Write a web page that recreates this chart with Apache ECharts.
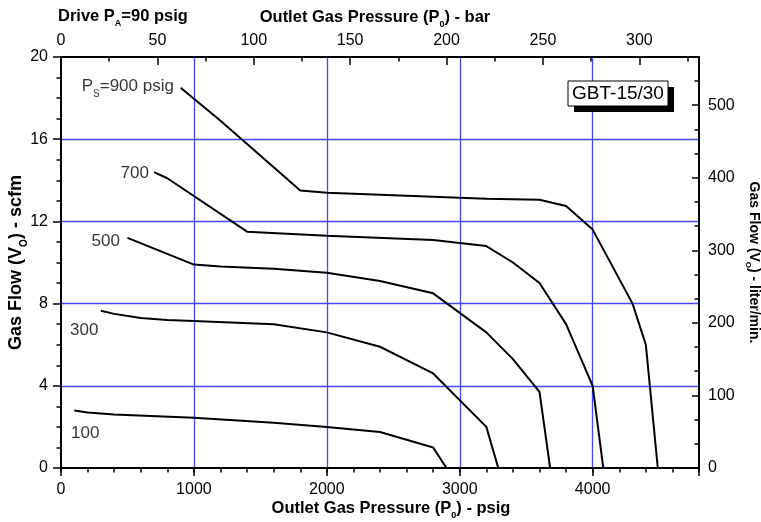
<!DOCTYPE html>
<html><head><meta charset="utf-8">
<script src="https://cdn.jsdelivr.net/npm/echarts@6/dist/echarts.min.js"></script>
<style>html,body{margin:0;padding:0;background:#fff}#c{width:761px;height:522px}</style>
</head><body><div id="c"></div>
<script>
// ---- data ----
const supplyLabels = ['900', '700', '500', '300', '100'];
const p900x = [900, 1200, 1800, 2000, 3200, 3600, 3800, 4000, 4300, 4400, 4490];
const p900y = [18.5, 16.9, 13.5, 13.4, 13.1, 13.05, 12.75, 11.6, 8.0, 6.0, 0];
const p700x = [700, 800, 1400, 2000, 2800, 3200, 3400, 3600, 3800, 4000, 4080];
const p700y = [14.4, 14.1, 11.5, 11.3, 11.1, 10.8, 10.0, 9.0, 7.0, 4.0, 0];
const p500x = [500, 1000, 1200, 1600, 2000, 2400, 2800, 3200, 3400, 3600, 3680];
const p500y = [11.2, 9.9, 9.8, 9.7, 9.5, 9.1, 8.5, 6.6, 5.3, 3.7, 0];
const p300x = [300, 400, 600, 800, 1000, 1600, 2000, 2400, 2800, 3200, 3290];
const p300y = [7.65, 7.5, 7.3, 7.2, 7.15, 7.0, 6.6, 5.9, 4.6, 2.0, 0];
const p100x = [100, 200, 400, 1000, 1600, 2000, 2400, 2800, 2900];
const p100y = [2.8, 2.7, 2.6, 2.45, 2.2, 2.0, 1.75, 1.0, 0];
// curve label anchors (data units) and text
const labelX = [850, 662, 444, 68, 75];
const labelY = [18.6, 14.38, 11.07, 6.72, 1.72];
const labelText = ['{n|P}{s|S}{n|=900 psig}', '{n|700}', '{n|500}', '{n|300}', '{n|100}'];
const labelSide = ['left', 'left', 'left', 'right', 'right'];

const X_MAX = 4800, Y_MAX = 20;
const PSI_PER_BAR = 14.5038, LPM_PER_SCFM = 28.3168;
const BAR_MAX = X_MAX / PSI_PER_BAR;
const LPM_MAX = Y_MAX * LPM_PER_SCFM;

const FONT = '"Liberation Sans", Arial, Helvetica, sans-serif';
const GRID_BLUE = '#4646ff';

function richSet(size, weight, lh, subSize) {
  return {
    b: {fontSize: size, fontWeight: weight, fontFamily: FONT, color: '#000', verticalAlign: 'top', lineHeight: lh},
    s: {fontSize: subSize, fontWeight: weight, fontFamily: FONT, color: '#000', verticalAlign: 'bottom'}
  };
}
const boldRich = richSet(16.5, 'bold', 20, 9);
const leftRich = richSet(18, 'bold', 22, 10);
const rightRich = richSet(14, 'bold', 17, 8);
const normRich = {
  n: {fontSize: 17, fontFamily: FONT, color: '#000', verticalAlign: 'top', lineHeight: 21},
  s: {fontSize: 10, fontFamily: FONT, color: '#000', verticalAlign: 'bottom'}
};
const tickLabel = {color: '#000', fontSize: 16, fontFamily: FONT};
const axisLine = {show: true, onZero: false, lineStyle: {color: '#000', width: 2}};
const noLine = {show: false, onZero: false};

const curves = [
  [p900x, p900y], [p700x, p700y], [p500x, p500y], [p300x, p300y], [p100x, p100y]
];

const chart = echarts.init(document.getElementById('c'), null, {renderer: 'canvas'});
chart.setOption({
  animation: false,
  backgroundColor: '#fff',
  grid: {left: 61, right: 62, top: 57, bottom: 54, containLabel: false, outerBoundsMode: 'none'},
  xAxis: [
    { type: 'value', position: 'bottom', min: 0, max: X_MAX, interval: 1000, z: 1,
      axisLine: axisLine,
      axisTick: {show: true, inside: false, length: 8, lineStyle: {color: '#000', width: 1.5}},
      axisLabel: Object.assign({margin: 14, formatter: v => (v % 1000 === 0 ? String(v) : '')}, tickLabel),
      splitLine: {show: true, showMinLine: false, showMaxLine: false, lineStyle: {color: GRID_BLUE, width: 1.3}},
      name: '{b|Outlet Gas Pressure (P}{s|0}{b|) - psig}', nameLocation: 'middle', nameGap: 32,
      nameMoveOverlap: false,
      nameTextStyle: {rich: boldRich, padding: [0, 0, 0, 22]}
    },
    { type: 'value', position: 'bottom', min: 0, max: X_MAX, interval: 200, z: 2,
      axisLine: noLine,
      axisTick: {show: true, inside: false, length: 4.5, lineStyle: {color: '#000', width: 1.5}},
      axisLabel: {show: false}, splitLine: {show: false}
    },
    { type: 'value', position: 'top', min: 0, max: BAR_MAX, interval: 50, z: 3,
      axisLine: axisLine,
      axisTick: {show: true, inside: true, length: 8, lineStyle: {color: '#000', width: 1.5}},
      axisLabel: Object.assign({margin: 8, formatter: v => (Math.abs(v % 50) < 1e-6 ? String(Math.round(v)) : '')}, tickLabel),
      splitLine: {show: false},
      name: '{b|Outlet Gas Pressure (P}{s|0}{b|) - bar}', nameLocation: 'middle', nameGap: 28,
      nameMoveOverlap: false,
      nameTextStyle: {rich: boldRich, padding: [0, 10, 0, 0]}
    },
    { type: 'value', position: 'top', min: 0, max: BAR_MAX, interval: 25, z: 3,
      axisLine: noLine,
      axisTick: {show: true, inside: true, length: 4.5, lineStyle: {color: '#000', width: 1.5}},
      axisLabel: {show: false}, splitLine: {show: false}
    }
  ],
  yAxis: [
    { type: 'value', position: 'left', min: 0, max: Y_MAX, interval: 4, z: 1,
      axisLine: axisLine,
      axisTick: {show: true, inside: false, length: 8, lineStyle: {color: '#000', width: 1.5}},
      minorTick: {show: true, splitNumber: 4, length: 4.5, lineStyle: {color: '#000', width: 1.5}},
      axisLabel: Object.assign({margin: 13}, tickLabel),
      splitLine: {show: true, showMinLine: false, showMaxLine: false, lineStyle: {color: GRID_BLUE, width: 1.3}},
      name: '{b|Gas Flow (V}{s|O}{b|) - scfm}', nameLocation: 'middle', nameGap: 32, nameRotate: 90,
      nameMoveOverlap: false,
      nameTextStyle: {rich: leftRich}
    },
    { type: 'value', position: 'right', min: 0, max: LPM_MAX, interval: 100, z: 3,
      axisLine: axisLine,
      axisTick: {show: true, inside: true, length: 7, lineStyle: {color: '#000', width: 1.5}},
      axisLabel: Object.assign({margin: 9, formatter: v => (Math.abs(v % 100) < 1e-6 ? String(Math.round(v)) : '')}, tickLabel),
      splitLine: {show: false},
      name: '{b|Gas Flow (V}{s|O}{b|) - liter/min.}', nameLocation: 'middle', nameGap: 45, nameRotate: -90,
      nameMoveOverlap: false,
      nameTextStyle: {rich: rightRich}
    },
    { type: 'value', position: 'right', min: 0, max: LPM_MAX, interval: 100 / 3, z: 3,
      axisLine: noLine,
      axisTick: {show: true, inside: true, length: 4.5, lineStyle: {color: '#000', width: 1.5}},
      axisLabel: {show: false}, splitLine: {show: false}
    }
  ],
  series: curves.map((c, k) => ({
    type: 'line', name: supplyLabels[k], xAxisIndex: 0, yAxisIndex: 0,
    data: c[0].map((x, i) => [x, c[1][i]]),
    symbol: 'none', silent: true, z: 5,
    lineStyle: {color: '#000', width: 2}
  })).concat([{
    type: 'scatter', xAxisIndex: 0, yAxisIndex: 0, symbolSize: 0.1, silent: true, z: 6,
    itemStyle: {color: 'rgba(0,0,0,0)'},
    data: labelX.map((x, i) => ({
      value: [x, labelY[i]],
      label: {show: true, position: labelSide[i], distance: 0, offset: [0, 2.5], formatter: labelText[i], rich: normRich}
    }))
  }]),
  graphic: [
    {type: 'text', left: 58, top: 8, z: 100,
      style: {text: '{b|Drive P}{s|A}{b|=90 psig}', rich: boldRich}},
    {type: 'rect', z: 100, shape: {x: 574, y: 87, width: 100, height: 25}, style: {fill: '#000'}},
    {type: 'rect', z: 101, shape: {x: 568, y: 81, width: 100, height: 25}, style: {fill: '#fff', stroke: '#000', lineWidth: 1}},
    {type: 'text', z: 102, x: 618, y: 94,
      style: {text: 'GBT-15/30', fontSize: 19, fontFamily: FONT, fill: '#000', align: 'center', verticalAlign: 'middle'}}
  ]
});
</script>
</body></html>
